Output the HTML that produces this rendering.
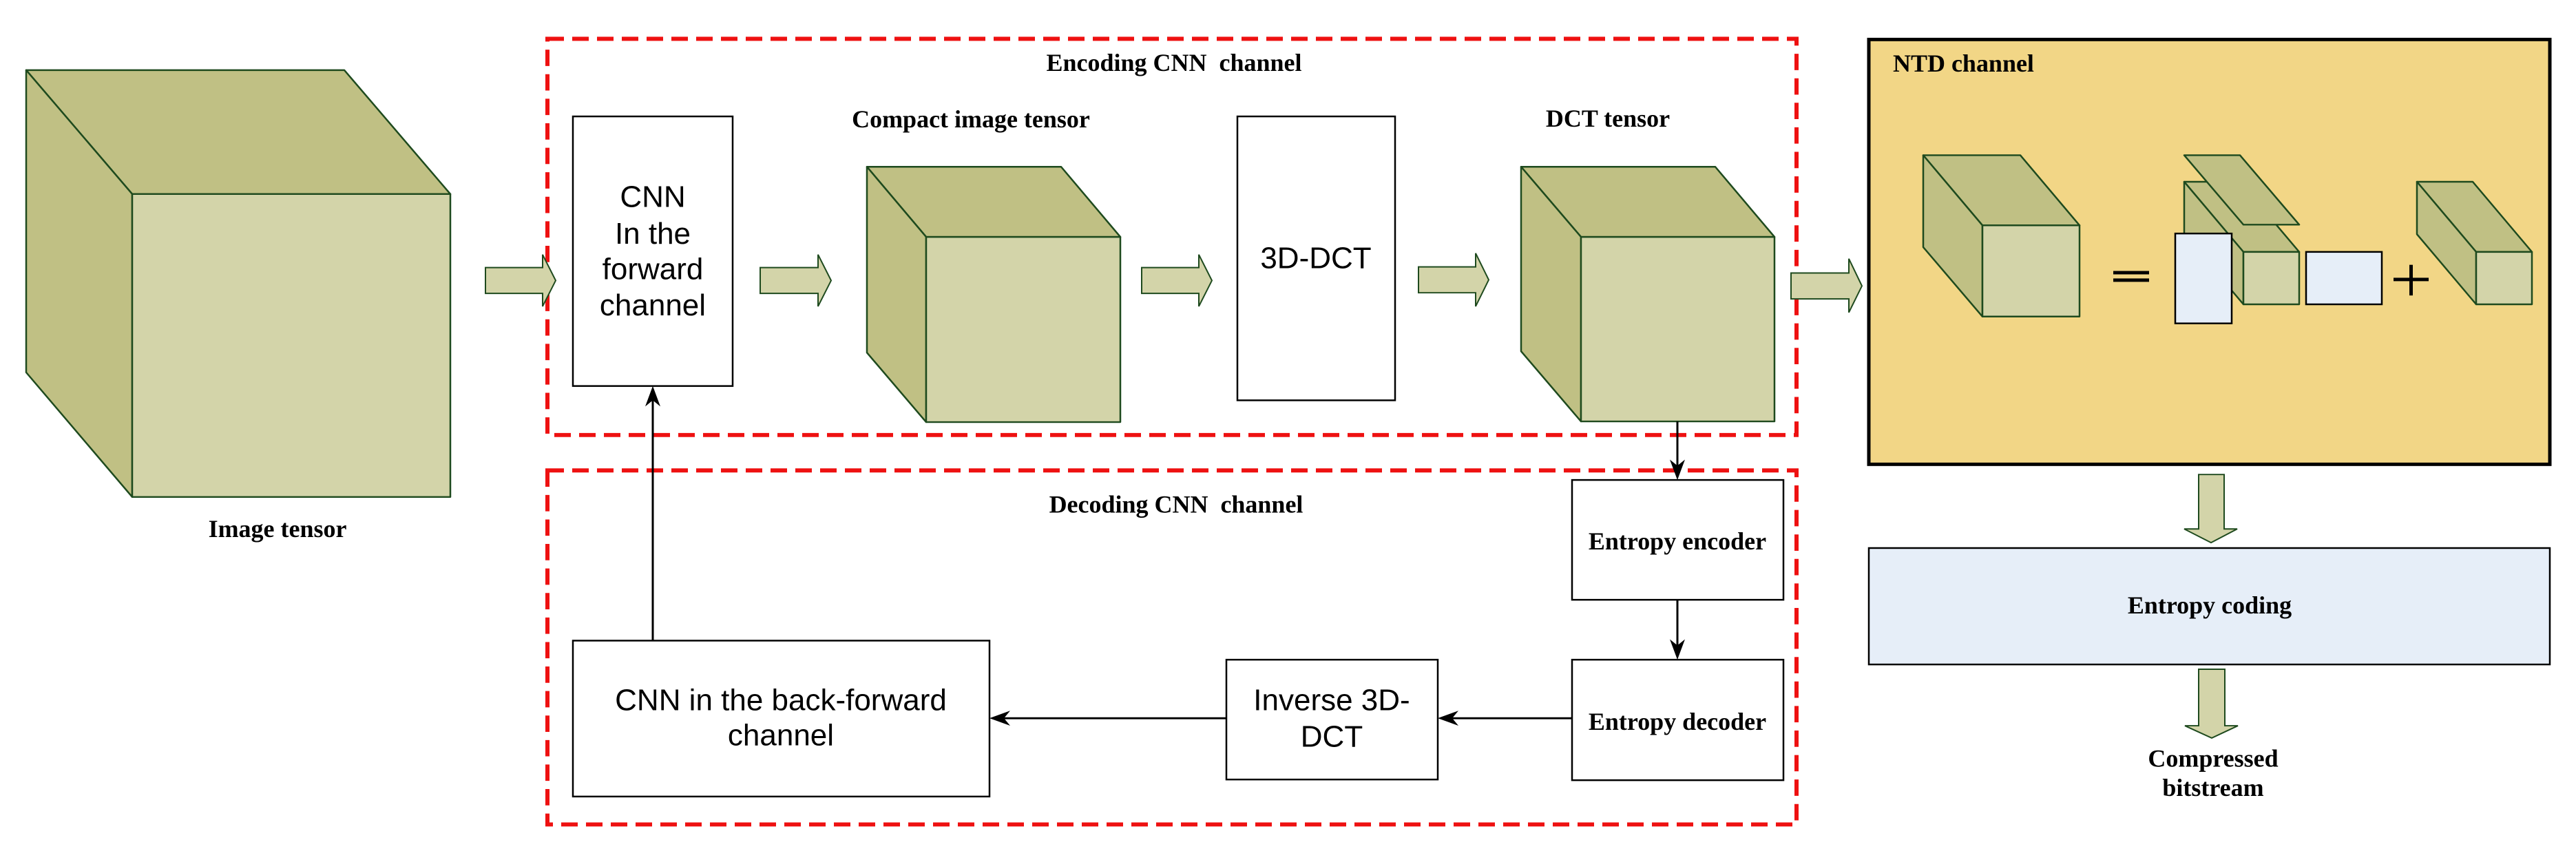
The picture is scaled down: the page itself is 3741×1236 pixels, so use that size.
<!DOCTYPE html>
<html><head><meta charset="utf-8"><style>html,body{margin:0;padding:0;background:#fff}svg{display:block}</style></head>
<body>
<svg width="3741" height="1236" viewBox="0 0 3741 1250" preserveAspectRatio="none" xmlns="http://www.w3.org/2000/svg">
<g stroke="#1e4a1e" stroke-width="2.5" stroke-linejoin="round">
<polygon points="38,103 500,103 654,285 192,285" fill="#c0c084"/>
<polygon points="38,103 192,285 192,730 38,547" fill="#c0c084"/>
<rect x="192" y="285" width="462" height="445" fill="#d3d4a9"/>
<polygon points="1259,245 1541,245 1627,348 1345,348" fill="#c0c084"/>
<polygon points="1259,245 1345,348 1345,620 1259,518" fill="#c0c084"/>
<rect x="1345" y="348" width="282" height="272" fill="#d3d4a9"/>
<polygon points="2209,245 2491,245 2577,348 2296,348" fill="#c0c084"/>
<polygon points="2209,245 2296,348 2296,619 2209,516" fill="#c0c084"/>
<rect x="2296" y="348" width="281" height="271" fill="#d3d4a9"/>
</g>
<rect x="795" y="57" width="1814" height="582" fill="none" stroke="#ee1111" stroke-width="6" stroke-dasharray="24,12"/>
<rect x="795" y="691" width="1814" height="520" fill="none" stroke="#ee1111" stroke-width="6" stroke-dasharray="24,12"/>
<rect x="2714" y="58" width="989" height="624" fill="#f2d686" stroke="#000" stroke-width="5"/>
<g stroke="#1e4a1e" stroke-width="2.5" stroke-linejoin="round">
<polygon points="2793,228 2934,228 3020,331 2879,331" fill="#c0c084"/>
<polygon points="2793,228 2879,331 2879,465 2793,363" fill="#c0c084"/>
<rect x="2879" y="331" width="141" height="134" fill="#d3d4a9"/>
<polygon points="3172,267 3253,267 3339,370 3258,370" fill="#c0c084"/>
<polygon points="3172,267 3258,370 3258,447 3172,344" fill="#c0c084"/>
<rect x="3258" y="370" width="81" height="77" fill="#d3d4a9"/>
<polygon points="3172,228 3253,228 3339,330 3258,330" fill="#c0c084"/>
<polygon points="3510,267 3591,267 3677,370 3596,370" fill="#c0c084"/>
<polygon points="3510,267 3596,370 3596,447 3510,344" fill="#c0c084"/>
<rect x="3596" y="370" width="81" height="77" fill="#d3d4a9"/>
</g>
<rect x="3159" y="343" width="82" height="132" fill="#e6eef8" stroke="#000" stroke-width="2.5"/>
<rect x="3349" y="370" width="110" height="77" fill="#e6eef8" stroke="#000" stroke-width="2.5"/>
<rect x="3069" y="398" width="52" height="5" fill="#000"/>
<rect x="3069" y="409" width="52" height="5" fill="#000"/>
<rect x="3476" y="408" width="51" height="5" fill="#000"/>
<rect x="3499" y="389" width="5" height="45" fill="#000"/>
<g fill="#d3d4a9" stroke="#1e4a1e" stroke-width="2">
<polygon points="705,393 788,393 788,374 807,412 788,450 788,431 705,431"/>
<polygon points="1104,393 1188,393 1188,374 1207,412 1188,450 1188,431 1104,431"/>
<polygon points="1658,393 1741,393 1741,374 1760,412 1741,450 1741,431 1658,431"/>
<polygon points="2060,392 2143,392 2143,372 2162,411 2143,450 2143,430 2060,430"/>
<polygon points="2601,401 2685,401 2685,380 2704,420 2685,459 2685,439 2601,439"/>
<polygon points="3193,697 3230,697 3230,777 3249,777 3211,797 3172,777 3193,777"/>
<polygon points="3193,983 3231,983 3231,1066 3250,1066 3212,1084 3173,1066 3193,1066"/>
</g>
<g fill="#fff" stroke="#000" stroke-width="2.5">
<rect x="832" y="171" width="232" height="396"/>
<rect x="1797" y="171" width="229" height="417"/>
<rect x="2283" y="705" width="307" height="176"/>
<rect x="2283" y="969" width="307" height="177"/>
<rect x="1781" y="969" width="307" height="176"/>
<rect x="832" y="941" width="605" height="229"/>
</g>
<rect x="2714" y="805" width="989" height="171" fill="#e6eef8" stroke="#000" stroke-width="2.5"/>
<g stroke="#000" stroke-width="3" fill="none">
<line x1="2436" y1="619" x2="2436" y2="685"/>
<line x1="2436" y1="881" x2="2436" y2="949"/>
<line x1="2283" y1="1055" x2="2108" y2="1055"/>
<line x1="1781" y1="1055" x2="1457" y2="1055"/>
<line x1="948" y1="941" x2="948" y2="587"/>
</g>
<g fill="#000">
<polygon points="2436,705 2425,675 2436,684 2447,675"/>
<polygon points="2436,969 2425,939 2436,948 2447,939"/>
<polygon points="2088,1055 2118,1044 2109,1055 2118,1066"/>
<polygon points="1437,1055 1467,1044 1458,1055 1467,1066"/>
<polygon points="948,567 937,597 948,588 959,597"/>
</g>
<g font-family="Liberation Serif, serif" font-weight="bold" font-size="36" fill="#000" text-anchor="middle">
<text x="403" y="789">Image tensor</text>
<text x="1705" y="104" xml:space="preserve">Encoding CNN  channel</text>
<text x="1708" y="753" xml:space="preserve">Decoding CNN  channel</text>
<text x="1410" y="187">Compact image tensor</text>
<text x="2335" y="186">DCT tensor</text>
<text x="2436" y="807">Entropy encoder</text>
<text x="2436" y="1072">Entropy decoder</text>
<text x="3209" y="901">Entropy coding</text>
<text x="3214" y="1126">Compressed</text>
<text x="3214" y="1169">bitstream</text>
<text x="2749" y="105" text-anchor="start">NTD channel</text>
</g>
<g font-family="Liberation Sans, sans-serif" font-size="44" fill="#000" text-anchor="middle">
<text x="948" y="304">CNN</text>
<text x="948" y="358">In the</text>
<text x="948" y="410">forward</text>
<text x="948" y="463">channel</text>
<text x="1911" y="394">3D-DCT</text>
<text x="1934" y="1043">Inverse 3D-</text>
<text x="1934" y="1097">DCT</text>
<text x="1134" y="1043">CNN in the back-forward</text>
<text x="1134" y="1095">channel</text>
</g>
</svg>
</body></html>
